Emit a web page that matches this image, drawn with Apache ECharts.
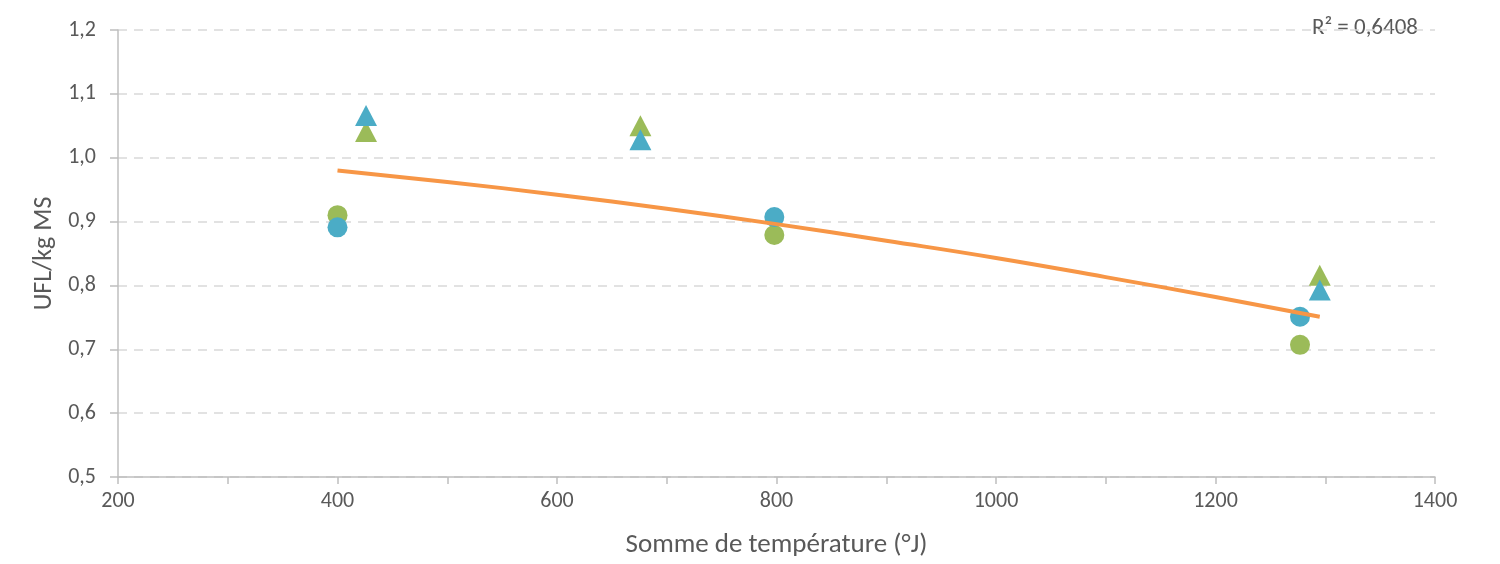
<!DOCTYPE html>
<html><head><meta charset="utf-8">
<script src="https://cdn.jsdelivr.net/npm/echarts@6/dist/echarts.min.js"></script>
<style>html,body{margin:0;padding:0;background:#fff}#c{width:1500px;height:564px}</style>
</head><body><div id="c"></div>
<script>
// Data
const circleX = [400, 798, 1277];
const greenCircleY = [0.910, 0.879, 0.707];
const blueCircleY = [0.891, 0.907, 0.751];
const triangleX = [426, 676, 1295];
const greenTriangleY = [1.041, 1.050, 0.816];
const blueTriangleY = [1.066, 1.028, 0.793];
const trendX = [400, 500, 600, 700, 800, 900, 1000, 1100, 1200, 1295];
const trendY = [0.980, 0.962, 0.942, 0.920, 0.896, 0.870, 0.843, 0.813, 0.782, 0.751];
const r2Label = 'R² = 0,6408';
const xTitle = 'Somme de température (°J)';
const yTitle = 'UFL/kg MS';

const zip = (xs, ys) => xs.map((x, i) => [x, ys[i]]);
const FONT = 'Carlito, Lato, "Open Sans", sans-serif';
const TXT = '#595959';
const BLUE = '#4BACC6', GREEN = '#9BBB59', ORANGE = '#F79646';

const chart = echarts.init(document.getElementById('c'));
chart.setOption({
  animation: false,
  textStyle: {fontFamily: FONT},
  grid: {left: 118, right: 65, top: 30, bottom: 83},
  xAxis: {
    type: 'value', min: 200, max: 1400, interval: 200,
    name: xTitle, nameLocation: 'middle', nameGap: 55,
    nameTextStyle: {color: TXT, fontSize: 27, fontFamily: FONT},
    axisLine: {show: true, lineStyle: {color: '#BFBFBF', width: 1.5}},
    axisTick: {show: true, length: 7, lineStyle: {color: '#BFBFBF', width: 1.5}},
    minorTick: {show: true, splitNumber: 2, length: 7, lineStyle: {color: '#BFBFBF', width: 1.5}},
    axisLabel: {color: TXT, fontSize: 22, margin: 13, fontFamily: FONT, formatter: v => String(v)},
    splitLine: {show: false}
  },
  yAxis: {
    type: 'value', min: 0.5, max: 1.2, interval: 0.1,
    name: yTitle, nameLocation: 'middle', nameGap: 61,
    nameTextStyle: {color: TXT, fontSize: 26, fontFamily: FONT},
    axisLine: {show: true, lineStyle: {color: '#BFBFBF', width: 1.5}},
    axisTick: {show: true, length: 8, lineStyle: {color: '#BFBFBF', width: 1.5}},
    axisLabel: {color: TXT, fontSize: 22, margin: 22, fontFamily: FONT,
      formatter: v => v.toFixed(1).replace('.', ',')},
    splitLine: {show: true, lineStyle: {color: '#D9D9D9', width: 1.5, type: [9, 7]}}
  },
  graphic: [{
    type: 'text', right: 82, top: 17,
    style: {text: r2Label, fill: TXT, font: '23px ' + FONT}
  }],
  series: [
    {type: 'scatter', data: zip(circleX, greenCircleY), symbol: 'circle', symbolSize: 20,
      itemStyle: {color: GREEN, opacity: 1}, z: 2},
    {type: 'scatter', data: zip(circleX, blueCircleY), symbol: 'circle', symbolSize: 20,
      itemStyle: {color: BLUE, opacity: 1}, z: 3},
    {type: 'scatter', data: zip(triangleX, greenTriangleY), symbol: 'triangle', symbolSize: [22, 21],
      itemStyle: {color: GREEN, opacity: 1}, z: 2},
    {type: 'scatter', data: zip(triangleX, blueTriangleY), symbol: 'triangle', symbolSize: [22, 21],
      itemStyle: {color: BLUE, opacity: 1}, z: 3},
    {type: 'line', data: zip(trendX, trendY), smooth: true, showSymbol: false,
      lineStyle: {color: ORANGE, width: 4}, z: 5}
  ]
});
</script></body></html>
